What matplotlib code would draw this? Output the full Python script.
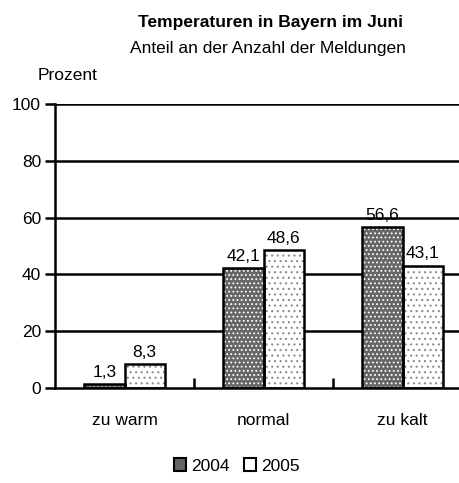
#!/usr/bin/env python3
"""Temperaturen in Bayern im Juni - grouped bar chart."""

import matplotlib

matplotlib.use("Agg")
import matplotlib.pyplot as plt
import numpy as np
from matplotlib.patches import Patch

plt.rcParams["font.family"] = ["Liberation Sans", "DejaVu Sans"]
plt.rcParams["hatch.linewidth"] = 0.8
FS = 12.5

categories = ["zu warm", "normal", "zu kalt"]
years = ["2004", "2005"]
values_2004 = [1.3, 42.1, 56.6]
values_2005 = [8.3, 48.6, 43.1]
y_ticks = [0, 20, 40, 60, 80, 100]

fig = plt.figure(figsize=(4.6, 4.83), dpi=100)
W, H = 460, 483
# axes runs past the right edge of the picture, like the original
ax = fig.add_axes([55 / W, 1 - 388 / H, 417 / W, 284 / H])

x = np.arange(len(categories))
width = 0.29
styles = [
    dict(face="#666666", hatch_col="white", hatch="...."),
    dict(face="white", hatch_col="#8c8c8c", hatch="..."),
]

for i, vals in enumerate([values_2004, values_2005]):
    pos = x + (i - 0.5) * width
    st = styles[i]
    ax.bar(pos, vals, width=width, color=st["face"], edgecolor=st["hatch_col"],
           hatch=st["hatch"], linewidth=0, zorder=3)
    ax.bar(pos, vals, width=width, facecolor="none", edgecolor="black",
           linewidth=1.8, zorder=4)
    for px, v in zip(pos, vals):
        ax.annotate(f"{v:.1f}".replace(".", ","), (px, v), xytext=(0, 3),
                    textcoords="offset points", ha="center", va="bottom",
                    fontsize=FS)

ax.set_xlim(-0.5, len(categories) - 0.5)
ax.set_ylim(0, 100)
ax.set_yticks(y_ticks)
ax.set_xticks(x + 0.5)
ax.set_xticklabels([])
ax.set_xticks(x, minor=True)
ax.set_xticklabels(categories, minor=True)
ax.tick_params(axis="x", which="minor", length=0, pad=18, labelsize=FS)
ax.tick_params(axis="x", which="major", direction="in", length=7, width=1.8)
ax.tick_params(axis="y", direction="out", length=7, width=1.8, labelsize=FS, pad=3)

for yv in y_ticks[1:]:
    ax.axhline(yv, color="black", linewidth=1.8, zorder=1)

for side in ["top", "right"]:
    ax.spines[side].set_visible(False)
ax.spines["left"].set_linewidth(1.8)
ax.spines["bottom"].set_linewidth(1.8)
ax.spines["left"].set_zorder(5)
ax.spines["bottom"].set_zorder(5)

fig.text(270 / W, 1 - 22 / H, "Temperaturen in Bayern im Juni", ha="center",
         va="center", fontsize=FS, fontweight="bold")
fig.text(268 / W, 1 - 48 / H, "Anteil an der Anzahl der Meldungen", ha="center",
         va="center", fontsize=FS)
fig.text(68 / W, 1 - 76 / H, "Prozent", ha="center", va="center", fontsize=FS)

handles = [
    Patch(facecolor=styles[0]["face"], edgecolor="black", linewidth=1.5,
          label=years[0]),
    Patch(facecolor="white", edgecolor="black", linewidth=1.5, label=years[1]),
]
fig.legend(handles=handles, loc="center", bbox_to_anchor=(237 / W, 1 - 466 / H),
           ncol=2, frameon=False, fontsize=FS, handlelength=0.7, handleheight=0.7,
           handletextpad=0.3, columnspacing=0.8)

fig.savefig("out.png", dpi=100)
